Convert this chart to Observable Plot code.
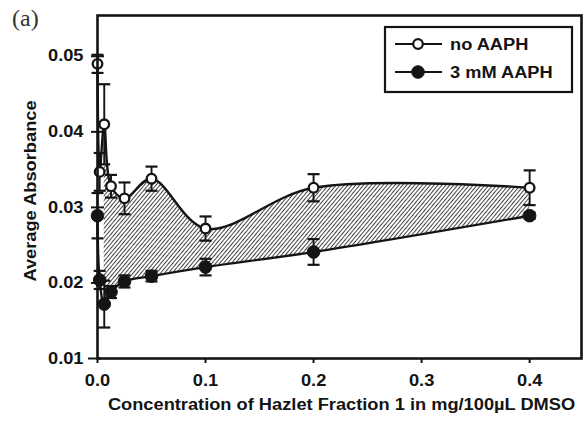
<!DOCTYPE html>
<html><head><meta charset="utf-8">
<script src="https://cdn.jsdelivr.net/npm/d3@7"></script>
<script src="https://cdn.jsdelivr.net/npm/@observablehq/plot@0.6"></script>
<style>body{margin:0;background:#fff} svg{display:block}</style>
</head><body><div id="chart"></div>
<script>
const concentrations = [0, 0.002, 0.00625, 0.0125, 0.025, 0.05, 0.1, 0.2, 0.4];
const noAAPH =     [0.0490, 0.0347, 0.0410, 0.0328, 0.0312, 0.0338, 0.0272, 0.0326, 0.0326];
const noAAPHErr =  [0.0012, 0.0025, 0.0053, 0.0015, 0.0021, 0.0016, 0.0016, 0.0018, 0.0023];
const aaph3mM =    [0.0289, 0.0204, 0.0172, 0.0188, 0.0202, 0.0209, 0.0221, 0.0241, 0.0289];
const aaph3mMErr = [0.0030, 0.0012, 0.0031, 0.0008, 0.0008, 0.0007, 0.0011, 0.0017, 0.0004];
const seriesNames = ["no AAPH", "3 mM AAPH"];
const xTicks = [0, 0.1, 0.2, 0.3, 0.4];
const yTicks = [0.01, 0.02, 0.03, 0.04, 0.05];
const xTitle = "Concentration of Hazlet Fraction 1 in mg/100µL DMSO";
const yTitle = "Average Absorbance";
const panelLabel = "(a)";

const rows = [
  ...concentrations.map((x, i) => ({series: seriesNames[0], x, y: noAAPH[i], e: noAAPHErr[i]})),
  ...concentrations.map((x, i) => ({series: seriesNames[1], x, y: aaph3mM[i], e: aaph3mMErr[i]}))
];
const openRows = rows.filter(d => d.series === seriesNames[0]);
const filledRows = rows.filter(d => d.series === seriesNames[1]);
const areaRows = concentrations.map((x, i) => ({x, lo: aaph3mM[i], hi: noAAPH[i]})).filter(d => d.x >= 0.00625);

const cap = {draw(ctx, size) { const w = Math.sqrt(size / Math.PI); ctx.moveTo(-w, 0); ctx.lineTo(w, 0); }};
const ink = "#141414";
const sans = "'Liberation Sans', Arial, sans-serif";

const plot = Plot.plot({
  width: 583, height: 425,
  marginLeft: 97, marginRight: 2, marginTop: 15, marginBottom: 67,
  style: {fontFamily: sans, fontSize: "16px", fontWeight: "bold", color: ink, background: "white"},
  x: {domain: [0, 0.448]},
  y: {domain: [0.01, 0.0554]},
  marks: [
    Plot.areaY(areaRows, {x: "x", y1: "lo", y2: "hi", curve: "catmull-rom", fill: "url(#hatch)"}),
    Plot.line(rows, {x: "x", y: "y", z: "series", curve: "catmull-rom", stroke: ink, strokeWidth: 2.4}),
    Plot.ruleX(rows, {x: "x", y1: d => d.y - d.e, y2: d => d.y + d.e, stroke: ink, strokeWidth: 1.9}),
    Plot.dot(rows, {x: "x", y: d => d.y + d.e, symbol: cap, r: 6, stroke: ink, strokeWidth: 2.2}),
    Plot.dot(rows, {x: "x", y: d => d.y - d.e, symbol: cap, r: 6, stroke: ink, strokeWidth: 2.2}),
    Plot.dot(filledRows, {x: "x", y: "y", r: 6.3, fill: ink, stroke: ink, strokeWidth: 1}),
    Plot.dot(openRows, {x: "x", y: "y", r: 4.8, fill: "white", stroke: ink, strokeWidth: 2.3}),
    Plot.frame({stroke: ink, strokeWidth: 2.6}),
    Plot.dot(yTicks.slice(1), {x: () => 0, y: d => d, symbol: cap, r: 6.5, stroke: ink, strokeWidth: 2}),
    Plot.dot(yTicks.slice(0, 1), {x: () => 0, y: d => d, symbol: cap, r: 6.5, dx: -3, stroke: ink, strokeWidth: 2}),
    Plot.axisX({ticks: xTicks, tickFormat: d3.format(".1f"), tickSize: 5, tickPadding: 11.5, strokeWidth: 2, label: null}),
    Plot.axisY({ticks: yTicks, tickFormat: d3.format(".2f"), tickSize: 0, tickPadding: 14, label: null}),
    Plot.text([xTitle], {frameAnchor: "bottom", dx: 2, dy: 51, fontSize: 16, fontWeight: "bold"})
  ]
});

document.getElementById("chart").appendChild(plot);
const svg = d3.select(plot);

// hatch pattern
const defs = svg.insert("defs", ":first-child");
const pat = defs.append("pattern").attr("id", "hatch").attr("width", 3).attr("height", 3)
  .attr("patternUnits", "userSpaceOnUse").attr("patternTransform", "rotate(40)");
pat.append("line").attr("x1", 1.5).attr("y1", 0).attr("x2", 1.5).attr("y2", 3)
  .attr("stroke", "#222").attr("stroke-width", 0.85);

// panel label
svg.append("text").attr("x", 12).attr("y", 26)
  .style("font-family", "'Liberation Serif', 'DejaVu Serif', serif").style("font-weight", "normal").style("font-size", "24px")
  .attr("fill", "#333").attr("text-anchor", "start").text(panelLabel);

// y title
svg.append("text").attr("class", "ytitle")
  .attr("transform", "translate(36,191) rotate(-90)")
  .attr("font-family", sans).attr("font-weight", "bold").attr("font-size", 16).attr("fill", ink)
  .attr("text-anchor", "middle").text(yTitle);

// legend
const lg = svg.append("g").attr("font-family", sans).attr("font-weight", "bold").attr("font-size", 16)
  .attr("fill", ink).attr("text-anchor", "start");
lg.append("rect").attr("x", 385).attr("y", 27).attr("width", 187).attr("height", 65)
  .attr("fill", "white").attr("stroke", ink).attr("stroke-width", 2.2);
const entries = [{name: seriesNames[0], y: 44, open: true}, {name: seriesNames[1], y: 72, open: false}];
for (const e of entries) {
  lg.append("line").attr("x1", 395).attr("x2", 442).attr("y1", e.y).attr("y2", e.y).attr("stroke", ink).attr("stroke-width", 2.2);
  lg.append("circle").attr("cx", 418).attr("cy", e.y).attr("r", e.open ? 4.8 : 6.3)
    .attr("fill", e.open ? "white" : ink).attr("stroke", ink).attr("stroke-width", e.open ? 2.2 : 1);
  lg.append("text").attr("x", 450).attr("y", e.y).attr("dy", "0.35em").attr("text-anchor", "start").text(e.name);
}

// widen sans text slightly to match the reference's horizontally stretched lettering
svg.selectAll("text").each(function() {
  const t = this.textContent;
  if (t === panelLabel || !t) return;
  const len = this.getComputedTextLength();
  if (!(len > 0)) return;
  const anchor = getComputedStyle(this).textAnchor;
  const newLen = len * 1.14;
  const x0 = parseFloat(this.getAttribute("x") || 0);
  const shift = anchor === "middle" ? newLen / 2 : anchor === "end" ? newLen : 0;
  this.setAttribute("x", (x0 - shift).toFixed(2));
  this.setAttribute("text-anchor", "start");
  this.style.textAnchor = "start";
  this.setAttribute("textLength", newLen.toFixed(1));
  this.setAttribute("lengthAdjust", "spacingAndGlyphs");
});
</script>
</body></html>
